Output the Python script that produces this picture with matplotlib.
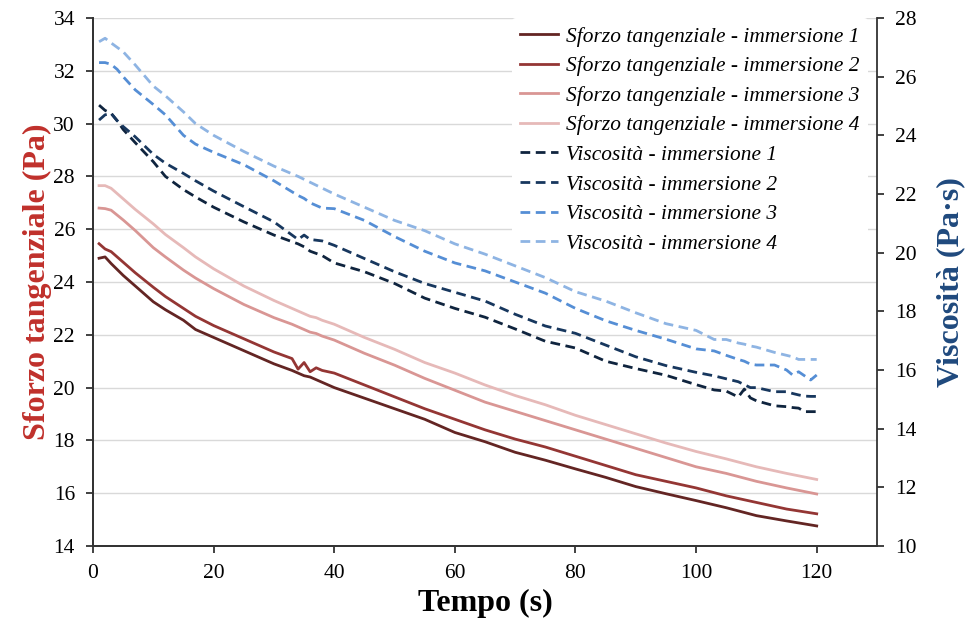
import matplotlib
matplotlib.use("Agg")
import matplotlib.pyplot as plt

# data
t_sforzo = [1, 2, 3, 5, 7, 10, 12, 15, 17, 20, 25, 30, 33, 34, 35, 36, 37, 38, 40,
            45, 50, 55, 60, 65, 70, 75, 80, 85, 90, 95, 100, 105, 110, 115, 120]
sforzo_1 = [24.9, 24.95, 24.7, 24.25, 23.85, 23.25, 22.95, 22.55, 22.2, 21.9, 21.4, 20.9, 20.65,
            20.55, 20.45, 20.4, 20.3, 20.2, 20.0, 19.6, 19.2, 18.8, 18.3, 17.95, 17.55, 17.25,
            16.92, 16.6, 16.25, 15.98, 15.72, 15.45, 15.15, 14.95, 14.76]
sforzo_2 = [25.45, 25.25, 25.15, 24.75, 24.35, 23.8, 23.45, 23.0, 22.7, 22.35, 21.85, 21.35, 21.1,
            20.7, 20.95, 20.6, 20.75, 20.65, 20.55, 20.1, 19.65, 19.2, 18.8, 18.4, 18.05, 17.75,
            17.4, 17.05, 16.7, 16.45, 16.2, 15.9, 15.65, 15.4, 15.22]
sforzo_3 = [26.8, 26.78, 26.72, 26.35, 25.95, 25.3, 24.95, 24.45, 24.15, 23.75, 23.15, 22.65, 22.4,
            22.3, 22.2, 22.1, 22.05, 21.95, 21.8, 21.3, 20.85, 20.35, 19.9, 19.45, 19.1, 18.75,
            18.4, 18.05, 17.7, 17.35, 17.0, 16.75, 16.45, 16.2, 15.97]
sforzo_4 = [27.65, 27.65, 27.55, 27.15, 26.75, 26.2, 25.8, 25.3, 24.95, 24.5, 23.85, 23.3, 23.0,
            22.9, 22.8, 22.7, 22.65, 22.55, 22.4, 21.9, 21.45, 20.95, 20.55, 20.1, 19.7, 19.35,
            18.95, 18.6, 18.25, 17.9, 17.58, 17.3, 17.0, 16.75, 16.52]

t_visc = [1, 2, 3, 4, 5, 7, 10, 12, 15, 17, 20, 25, 30, 34, 35, 36, 38, 40, 45, 50, 55, 60,
          65, 70, 75, 80, 85, 90, 95, 100, 103, 105, 107, 108, 109, 110, 113, 115, 116, 117,
          118, 119, 120]
visc_1 = [25.03, 24.85, 24.75, 24.5, 24.2, 23.75, 23.1, 22.6, 22.15, 21.9, 21.55, 21.05, 20.6,
          20.3, 20.2, 20.05, 19.9, 19.65, 19.35, 18.95, 18.45, 18.1, 17.8, 17.4, 16.98, 16.75,
          16.3, 16.05, 15.82, 15.5, 15.32, 15.28, 15.08, 15.35, 15.05, 14.95, 14.78, 14.75,
          14.72, 14.7, 14.58, 14.58, 14.58]
visc_2 = [24.52, 24.7, 24.75, 24.5, 24.3, 23.95, 23.35, 23.05, 22.7, 22.45, 22.1, 21.57, 21.05,
          20.45, 20.6, 20.45, 20.4, 20.25, 19.8, 19.35, 18.95, 18.65, 18.35, 17.9, 17.5, 17.25,
          16.85, 16.45, 16.15, 15.92, 15.8, 15.7, 15.6, 15.5, 15.4, 15.4, 15.26, 15.26, 15.2,
          15.15, 15.11, 15.1, 15.1]
visc_3 = [26.48, 26.48, 26.42, 26.25, 26.0, 25.55, 25.05, 24.7, 24.0, 23.7, 23.42, 23.0, 22.45,
          21.95, 21.85, 21.7, 21.52, 21.5, 21.1, 20.55, 20.05, 19.65, 19.38, 19.0, 18.62, 18.1,
          17.68, 17.35, 17.05, 16.72, 16.65, 16.5, 16.36, 16.3, 16.2, 16.17, 16.17, 16.0,
          15.83, 15.94, 15.8, 15.66, 15.83]
visc_4 = [27.19, 27.31, 27.15, 27.0, 26.85, 26.4, 25.68, 25.35, 24.8, 24.4, 24.0, 23.45, 22.95,
          22.6, 22.5, 22.4, 22.2, 22.0, 21.55, 21.1, 20.75, 20.3, 19.95, 19.55, 19.15, 18.67,
          18.35, 17.95, 17.58, 17.35, 17.04, 17.04, 16.92, 16.88, 16.82, 16.78, 16.6, 16.5,
          16.45, 16.36, 16.36, 16.36, 16.36]

sforzo = [sforzo_1, sforzo_2, sforzo_3, sforzo_4]
visc = [visc_1, visc_2, visc_3, visc_4]
col_sforzo = ["#632523", "#943634", "#D99694", "#E6B9B8"]
col_visc = ["#0F243E", "#17375E", "#558ED5", "#8EB4E3"]

plt.rcParams["font.family"] = ["Liberation Serif", "DejaVu Serif"]

fig = plt.figure(figsize=(9.71, 6.23), dpi=100)
ax = fig.add_axes([0.0958, 0.1236, 0.8074, 0.8475])
ax2 = ax.twinx()

handles = []
for i in range(4):
    h, = ax.plot(t_sforzo, sforzo[i], color=col_sforzo[i], lw=2,
                 label="Sforzo tangenziale - immersione %d" % (i + 1))
    handles.append(h)
for i in range(4):
    h, = ax2.plot(t_visc, visc[i], color=col_visc[i], lw=2, dashes=(3.5, 2),
                  label="Viscosità - immersione %d" % (i + 1))
    handles.append(h)

ax.set_xlim(0, 130)
ax.set_ylim(14, 34)
ax2.set_ylim(10, 28)
ax.set_xticks(range(0, 121, 20))
ax.set_yticks(range(14, 35, 2))
ax2.set_yticks(range(10, 29, 2))

ax.yaxis.grid(True, color="#D9D9D9", lw=1)
ax.set_axisbelow(True)

for a in (ax, ax2):
    a.spines["top"].set_visible(False)
    for s in a.spines.values():
        s.set_color("#333333")
        s.set_linewidth(1.3)
    a.tick_params(direction="out", length=5, width=1.3, color="#333333",
                  labelsize=15.5, pad=8)
ax.spines["right"].set_visible(False)

ax.set_xlabel("Tempo (s)", fontsize=23, fontweight="bold", labelpad=4)
ax.set_ylabel("Sforzo tangenziale (Pa)", fontsize=23, fontweight="bold",
              color="#C0302B", labelpad=1)
ax2.set_ylabel("Viscosità (Pa·s)", fontsize=23, fontweight="bold",
               color="#1F497D", labelpad=14)

leg = ax2.legend(handles=handles, loc="upper left", bbox_to_anchor=(0.534, 1.0),
                 borderaxespad=0, frameon=True, facecolor="white", edgecolor="none",
                 framealpha=1, prop={"style": "italic", "size": 15.4}, handlelength=1.75,
                 handletextpad=0.4, labelspacing=0.45, borderpad=0.4)

fig.savefig("out.png", dpi=100)
